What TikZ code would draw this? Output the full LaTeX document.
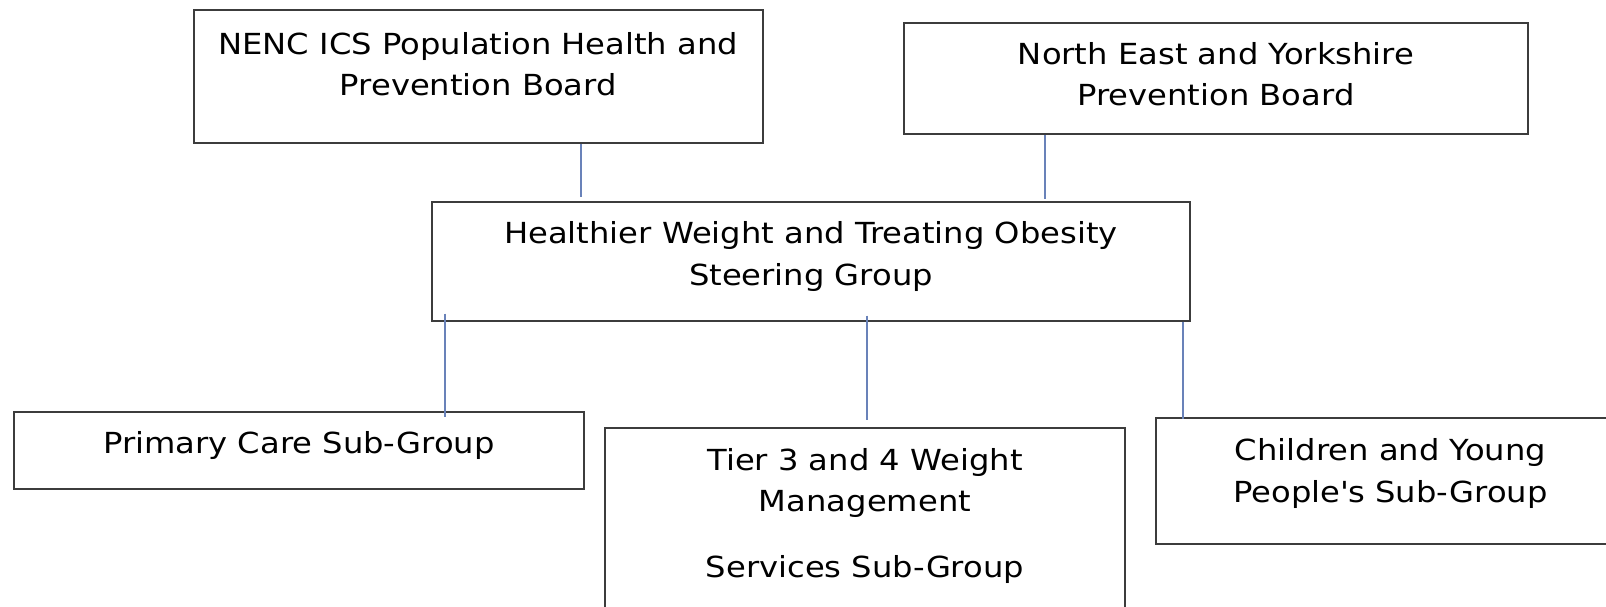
\documentclass[tikz,border=0pt]{standalone}
\usepackage{fontspec}
\setmainfont[FakeStretch=1.11]{DejaVu Sans}
\usepackage{tikz}
\usetikzlibrary{calc}
\definecolor{boxline}{RGB}{60,60,60}
\definecolor{linkblue}{RGB}{105,130,185}
\newcommand{\boardfont}{\fontsize{29}{41.5}\selectfont}
\tikzstyle{board} = [rectangle, draw=boxline, line width=2pt, sharp corners, fill=white, inner sep=0pt]
\tikzstyle{txt} = [anchor=north, inner sep=0pt, align=center, font=\boardfont]
\tikzstyle{link} = [draw=linkblue, line width=1.7pt]

\begin{document}
\begin{tikzpicture}[x=1pt, y=-1pt]
    \useasboundingbox[fill=white] (0,0) rectangle (1606,607);
    \node[board, minimum width=569.4pt, minimum height=133.4pt] (nenc) at (478.3,76.7) {};
    \node[board, minimum width=624pt, minimum height=111.5pt] (ney) at (1216,78.3) {};
    \node[board, minimum width=758pt, minimum height=118.6pt] (hw) at (811,261.3) {};
    \node[board, minimum width=570pt, minimum height=77pt] (pcs) at (299,450.5) {};
    \node[board, minimum width=520pt, minimum height=202pt] (tier) at (865,529) {};
    \node[board, minimum width=484pt, minimum height=126pt] (cyp) at (1398,481) {};
    % texts
    \node[txt] (nenctxt) at ($(nenc.north)+(0,16)$) {\strut NENC ICS Population Health and\\Prevention Board};
    \node[txt] (neytxt) at ($(ney.north)+(0,13.5)$) {\strut North East and Yorkshire\\Prevention Board};
    \node[txt] (hwtxt) at ($(hw.north)+(0,13.3)$) {\strut Healthier Weight and Treating Obesity\\Steering Group};
    \node[txt] (pcstxt) at ($(pcs.north)+(0,13)$) {\strut Primary Care Sub-Group};
    \node[txt] (tiertxt) at ($(tier.north)+(0,14)$) {\strut Tier 3 and 4 Weight\\Management\\[24.7pt]Services Sub-Group};
    \node[txt] (cyptxt) at ($(cyp.north west)+(235.5,14.7)$) {\strut Children and Young\\People\textquotesingle s Sub-Group};
    % draw links
    \coordinate (c1) at ($(hw.north west)+(150,0)$);
    \coordinate (c2) at ($(hw.north west)+(614,0)$);
    \coordinate (c3) at ($(hw.south west)+(14,0)$);
    \coordinate (c4) at ($(hw.south west)+(436,0)$);
    \coordinate (c5) at ($(hw.south west)+(752,0)$);
    \path[link, shorten >=4pt] (c1 |- nenc.south) -- (c1 |- hw.north);
    \path[link, shorten >=2pt] (c2 |- ney.south) -- (c2 |- hw.north);
    \path[link, shorten <=-8pt, shorten >=-6pt] (c3 |- hw.south) -- (c3 |- pcs.north);
    \path[link, shorten <=-6pt, shorten >=7pt] (c4 |- hw.south) -- (c4 |- tier.north);
    \path[link, shorten >=-2pt] (c5 |- hw.south) -- (c5 |- cyp.north);
\end{tikzpicture}
\end{document}
